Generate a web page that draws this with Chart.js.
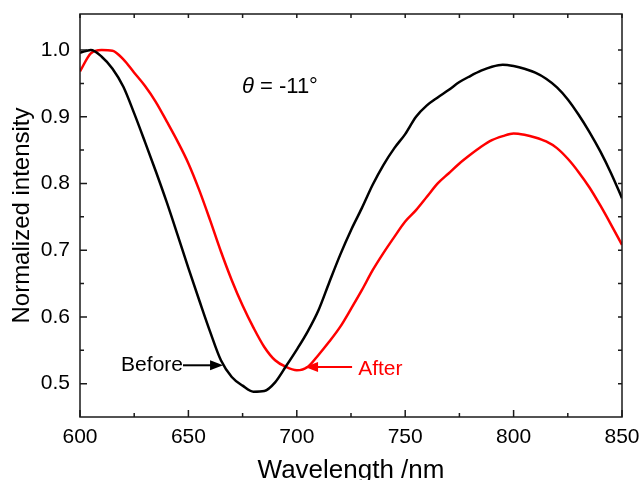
<!DOCTYPE html>
<html>
<head>
<meta charset="utf-8">
<script src="https://cdn.jsdelivr.net/npm/chart.js@4"></script>
<style>
  body { margin: 0; background: #fff; }
  canvas { display: block; }
</style>
</head>
<body>
<canvas id="chart" width="641" height="480"></canvas>
<script>
// panjang gelombang (nm), setiap 5 nm
const wavelength = [600, 605, 610, 615, 620, 625, 630, 635, 640, 645,
  650, 655, 660, 665, 670, 675, 680, 685, 690, 695,
  700, 705, 710, 715, 720, 725, 730, 735, 740, 745,
  750, 755, 760, 765, 770, 775, 780, 785, 790, 795,
  800, 805, 810, 815, 820, 825, 830, 835, 840, 845, 850];

// intensitas ternormalisasi sebelum
const before = [0.996, 1.000, 0.990, 0.972, 0.945, 0.905, 0.862, 0.818, 0.772, 0.723,
  0.673, 0.625, 0.578, 0.535, 0.510, 0.497, 0.488, 0.489, 0.502, 0.526,
  0.551, 0.578, 0.610, 0.652, 0.693, 0.730, 0.763, 0.798, 0.828, 0.853,
  0.874, 0.900, 0.917, 0.929, 0.940, 0.952, 0.961, 0.969, 0.975, 0.978,
  0.976, 0.972, 0.966, 0.957, 0.944, 0.926, 0.903, 0.877, 0.848, 0.815, 0.778];

// intensitas ternormalisasi sesudah
const after = [0.968, 0.995, 1.000, 0.999, 0.986, 0.966, 0.946, 0.922, 0.893, 0.863,
  0.830, 0.790, 0.745, 0.698, 0.655, 0.617, 0.584, 0.555, 0.535, 0.525,
  0.520, 0.525, 0.543, 0.563, 0.585, 0.612, 0.640, 0.670, 0.696, 0.720,
  0.743, 0.760, 0.780, 0.800, 0.815, 0.830, 0.843, 0.855, 0.865, 0.871,
  0.875, 0.873, 0.869, 0.863, 0.853, 0.837, 0.817, 0.794, 0.767, 0.738, 0.708];

const xTicks = [600, 650, 700, 750, 800, 850];
const yTicks = [0.5, 0.6, 0.7, 0.8, 0.9, 1.0];
const xMinor = [625, 675, 725, 775, 825];
const yMinor = [0.55, 0.65, 0.75, 0.85, 0.95];

const FONT = "'Liberation Sans', Arial, sans-serif";

// Fungsi untuk menggambar panah
function drawArrow(ctx, x1, y, x2, color) {
    const dir = x2 > x1 ? 1 : -1;
    ctx.strokeStyle = color;
    ctx.fillStyle = color;
    ctx.lineWidth = 2;
    ctx.beginPath();
    ctx.moveTo(x1, y);
    ctx.lineTo(x2 - dir * 10, y);
    ctx.stroke();
    ctx.beginPath();
    ctx.moveTo(x2, y);
    ctx.lineTo(x2 - dir * 13, y - 5);
    ctx.lineTo(x2 - dir * 13, y + 5);
    ctx.closePath();
    ctx.fill();
}

// plugin: bingkai, tick ke dalam, dan anotasi
const framePlugin = {
    id: 'frame',
    afterDraw(chart) {
        const ctx = chart.ctx;
        const a = chart.chartArea;
        const xs = chart.scales.x;
        const ys = chart.scales.y;
        ctx.save();
        ctx.strokeStyle = '#1a1a1a';
        ctx.lineWidth = 1.5;
        ctx.strokeRect(a.left, a.top, a.right - a.left, a.bottom - a.top);

        ctx.beginPath();
        xTicks.concat(xMinor).forEach(v => {
            const px = xs.getPixelForValue(v);
            const len = xTicks.includes(v) ? 7 : 4;
            ctx.moveTo(px, a.bottom);
            ctx.lineTo(px, a.bottom - len);
            ctx.moveTo(px, a.top);
            ctx.lineTo(px, a.top + 4);
        });
        yTicks.concat(yMinor).forEach(v => {
            const py = ys.getPixelForValue(v);
            const len = yTicks.includes(v) ? 7 : 4;
            ctx.moveTo(a.left, py);
            ctx.lineTo(a.left + len, py);
            ctx.moveTo(a.right, py);
            ctx.lineTo(a.right - 4, py);
        });
        ctx.stroke();

        // teks theta
        ctx.fillStyle = '#000';
        ctx.textBaseline = 'middle';
        ctx.textAlign = 'left';
        const tx = xs.getPixelForValue(674.7);
        const ty = ys.getPixelForValue(0.945);
        ctx.font = 'italic 22px ' + FONT;
        ctx.fillText('\u03B8', tx, ty);
        const w = ctx.measureText('\u03B8').width;
        ctx.font = '22px ' + FONT;
        ctx.fillText(' = -11\u00B0', tx + w, ty);

        // Before
        const by = ys.getPixelForValue(0.5275);
        ctx.textAlign = 'right';
        ctx.font = '21px ' + FONT;
        ctx.fillText('Before', xs.getPixelForValue(647.5), by);
        drawArrow(ctx, xs.getPixelForValue(647.5), by, xs.getPixelForValue(666), '#000');

        // After
        const ay = ys.getPixelForValue(0.525);
        drawArrow(ctx, xs.getPixelForValue(725.5), ay, xs.getPixelForValue(703.8), '#ff0000');
        ctx.fillStyle = '#ff0000';
        ctx.textAlign = 'left';
        ctx.fillText('After', xs.getPixelForValue(728.3), ay + 2);
        ctx.restore();
    }
};

const ctx = document.getElementById('chart').getContext('2d');
new Chart(ctx, {
    type: 'line',
    data: {
        datasets: [{
            label: 'Before',
            data: wavelength.map((w, i) => ({ x: w, y: before[i] })),
            borderColor: '#000000',
            borderWidth: 2.5,
            pointRadius: 0,
            cubicInterpolationMode: 'monotone',
        }, {
            label: 'After',
            data: wavelength.map((w, i) => ({ x: w, y: after[i] })),
            borderColor: '#ff0000',
            borderWidth: 2.5,
            pointRadius: 0,
            cubicInterpolationMode: 'monotone',
        }],
    },
    options: {
        responsive: false,
        animation: false,
        events: [],
        layout: { padding: { top: 14, right: 19, left: 0, bottom: 0 } },
        plugins: { legend: { display: false }, tooltip: { enabled: false } },
        scales: {
            x: {
                type: 'linear',
                min: 600,
                max: 850,
                afterBuildTicks: s => { s.ticks = xTicks.map(v => ({ value: v })); },
                afterFit: s => { s.height = 63; s.paddingLeft = 0; s.paddingRight = 0; },
                grid: { display: false, drawTicks: false },
                border: { display: false },
                ticks: { color: '#000', font: { family: FONT, size: 21 }, padding: 8, maxRotation: 0 },
                title: {
                    display: true, text: 'Wavelength /nm', color: '#000',
                    font: { family: FONT, size: 26 }, padding: { top: 0, bottom: -6 }
                },
            },
            y: {
                min: 0.45,
                max: 1.054,
                afterBuildTicks: s => { s.ticks = yTicks.map(v => ({ value: v })); },
                afterFit: s => { s.width = 80; s.paddingTop = 0; s.paddingBottom = 0; },
                grid: { display: false, drawTicks: false },
                border: { display: false },
                ticks: {
                    color: '#000', font: { family: FONT, size: 21 }, padding: 10,
                    callback: v => v.toFixed(1)
                },
                title: {
                    display: true, text: 'Normalized intensity', color: '#000',
                    font: { family: FONT, size: 24 }, padding: { top: 8, bottom: 0 }
                },
            },
        },
    },
    plugins: [framePlugin],
});
</script>
</body>
</html>
